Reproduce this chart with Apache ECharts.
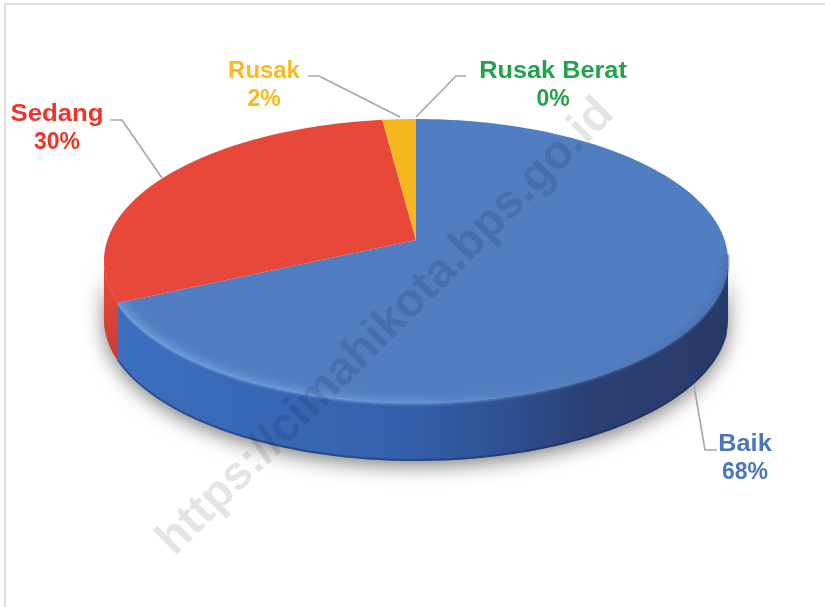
<!DOCTYPE html>
<html>
<head>
<meta charset="utf-8">
<title>Kondisi Jalan</title>
<script src="https://cdn.jsdelivr.net/npm/echarts@6/dist/echarts.min.js"></script>
<style>
html, body { margin: 0; padding: 0; background: #fff; }
#chart { width: 825px; height: 607px; filter: blur(0.4px); }
</style>
</head>
<body>
<div id="chart"></div>
<script>
// values
var categories = ['Baik', 'Sedang', 'Rusak', 'Rusak Berat'];
var shares = [68, 30, 2, 0];
var topColors = ['#517dc2', '#e8483a', '#f6b81f', '#22a34b'];
var textColors = ['#4a76be', '#ee3328', '#fbb91d', '#22a34b'];

// leader lines and label places
var labelPlaces = [[745, 445], [57, 115], [264, 72], [553, 72]];
var nameStretch = [1.1, 1.12, 1.04, 1.1];
var leaderLines = [
  [[694, 386], [705, 450], [717, 450]],
  [[110, 120], [122, 120], [162, 178]],
  [[308, 76], [319, 76], [400, 117]],
  [[466, 76], [456, 76], [416, 117]]
];

// tilted disc: unit circle -> screen, perspective k
var apexX = 416, apexY = 240, radX = 308.6, radY = 138.9, k = 0.148, depth = 58;
var total = shares.reduce(function (a, b) { return a + b; }, 0);

function project(deg, down, scale) {
  var r = deg * Math.PI / 180;
  var s = scale || 1;
  var x = Math.sin(r) * s, y = -Math.cos(r) * s;
  var d = 1 - k * y;
  return [apexX + radX * x / d, apexY + radY * y / d + (down || 0)];
}
function arc(from, to, down, scale) {
  var pts = [];
  var n = Math.max(2, Math.ceil(Math.abs(to - from) / 1.5));
  for (var i = 0; i <= n; i++) pts.push(project(from + (to - from) * i / n, down, scale));
  return pts;
}
function sliceAngles(i) {
  var before = 0;
  for (var j = 0; j < i; j++) before += shares[j];
  return [before / total * 360, (before + shares[i]) / total * 360];
}

var frontFrom = 98.5, frontTo = 261.5; // part of the rim facing the viewer

function hGrad(stops) {
  return new echarts.graphic.LinearGradient(104, 0, 728, 0, stops, true);
}
var wallColors = [
  hGrad([
    { offset: 0, color: '#3c70bf' },
    { offset: 0.45, color: '#3562ae' },
    { offset: 0.62, color: '#2f5398' },
    { offset: 0.78, color: '#2b3f73' },
    { offset: 1, color: '#283a68' }
  ]),
  new echarts.graphic.LinearGradient(0, 290, 0, 370, [
    { offset: 0, color: '#e6463a' },
    { offset: 1, color: '#c93a2b' }
  ], true)
];

function renderWall(params, api) {
  var i = params.dataIndex;
  var a = sliceAngles(i);
  var from = Math.max(a[0], frontFrom), to = Math.min(a[1], frontTo);
  if (to <= from) return { type: 'group', children: [] };
  var pts = arc(from, to, 0).concat(arc(to, from, depth));
  return {
    type: 'polygon',
    shape: { points: pts },
    style: { fill: wallColors[i] }
  };
}
function renderTop(params, api) {
  var i = params.dataIndex;
  if (api.value(1) <= 0) return { type: 'group', children: [] };
  var a = sliceAngles(i);
  var pts = [[apexX, apexY]].concat(arc(a[0], a[1], 0));
  return {
    type: 'polygon',
    shape: { points: pts },
    style: { fill: topColors[i] }
  };
}
function bevelGrad(m) {
  return hGrad([
    { offset: 0, color: 'rgba(125,175,232,' + 0.9 * m + ')' },
    { offset: 0.5, color: 'rgba(115,165,225,' + 0.8 * m + ')' },
    { offset: 0.72, color: 'rgba(90,130,190,' + 0.6 * m + ')' },
    { offset: 1, color: 'rgba(66,100,160,' + 0.7 * m + ')' }
  ]);
}
function renderBevel(params, api) {
  // soft light band along the blue front rim
  var a = sliceAngles(0);
  var from = 96, to = a[1];
  var band = function (w, m, scale, down) {
    return {
      type: 'polyline',
      shape: { points: arc(from, to, down, scale) },
      style: { stroke: bevelGrad(m), fill: null, lineWidth: w }
    };
  };
  return {
    type: 'group',
    children: [
      band(14, 0.1, 0.985, 0),
      band(9, 0.16, 0.99, 0),
      band(6, 0.22, 0.995, 0),
      band(3, 0.4, 1, 0),
      {
        type: 'polyline',
        shape: { points: arc(frontFrom + 6, to, depth - 1) },
        style: { stroke: 'rgba(24,40,85,0.45)', fill: null, lineWidth: 2 }
      }
    ]
  };
}
function renderShadow() {
  var pts = arc(frontFrom, frontTo, 0).concat(arc(frontTo, frontFrom, depth));
  return {
    type: 'polygon',
    shape: { points: pts },
    style: { fill: '#999', shadowBlur: 20, shadowColor: 'rgba(0,0,0,0.5)', shadowOffsetY: 5 }
  };
}

var rows = categories.map(function (c, i) { return [c, shares[i]]; });
var baseSeries = { type: 'custom', coordinateSystem: 'none', silent: true, animation: false, data: rows };
var labelFont = 'bold 23px "Liberation Sans", Arial, sans-serif';

var graphics = [
  { type: 'polyline', shape: { points: [[5, 607], [5, 4], [825, 4]] }, style: { stroke: '#dfdfdf', lineWidth: 2, fill: null } }
];
leaderLines.forEach(function (line) {
  graphics.push({ type: 'polyline', z: 20, shape: { points: line }, style: { stroke: '#a6a6a6', lineWidth: 1.6, fill: null } });
});
categories.forEach(function (c, i) {
  graphics.push({
    type: 'text', z: 21, x: labelPlaces[i][0], y: labelPlaces[i][1], scaleX: nameStretch[i],
    style: { text: c, fill: textColors[i], font: labelFont, textAlign: 'center', textVerticalAlign: 'middle' }
  });
  graphics.push({
    type: 'text', z: 21, x: labelPlaces[i][0], y: labelPlaces[i][1] + 27.5,
    style: { text: shares[i] + '%', fill: textColors[i], font: labelFont, textAlign: 'center', textVerticalAlign: 'middle' }
  });
});
graphics.push({
  type: 'text', z: 30, x: 386, y: 327, rotation: Math.PI / 4,
  style: {
    text: 'https://cimahikota.bps.go.id', fill: 'rgba(0,0,0,0.105)',
    font: 'bold 47px "Liberation Sans", Arial, sans-serif',
    textAlign: 'center', textVerticalAlign: 'middle'
  }
});

var chart = echarts.init(document.getElementById('chart'));
chart.setOption({
  backgroundColor: '#fff',
  animation: false,
  graphic: graphics,
  series: [
    Object.assign({}, baseSeries, { z: 1, data: [rows[0]], renderItem: renderShadow }),
    Object.assign({}, baseSeries, { z: 2, renderItem: renderWall }),
    Object.assign({}, baseSeries, { z: 3, renderItem: renderTop }),
    Object.assign({}, baseSeries, { z: 4, data: [rows[0]], renderItem: renderBevel })
  ]
});
</script>
</body>
</html>
